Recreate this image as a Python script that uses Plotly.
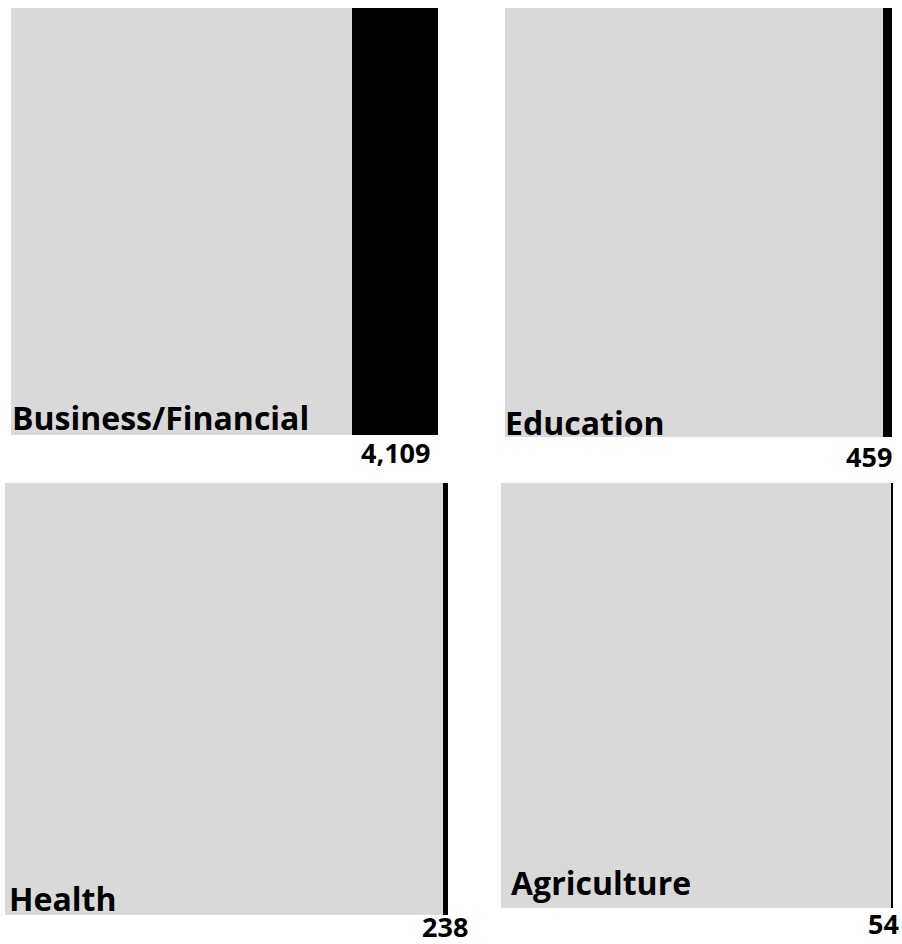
import plotly.graph_objects as go

# ---- data ----
categories = ["Business/Financial", "Education", "Health", "Agriculture"]
values = [4109, 459, 238, 54]
value_labels = ["4,109", "459", "238", "54"]
total = 20400  # value represented by a full grey square

# ---- layout (pixel boxes of each panel: left, top, right, bottom) ----
W, H = 902, 944
boxes = [(11, 8, 438, 435), (505, 8, 892, 437), (5, 483, 448, 915), (501, 483, 893, 908)]
label_offsets = [(1, 1), (0, -2), (4, 0), (10, 9)]  # (xshift, yshift) of category labels
value_yshift = [2, 0, 8, 4]          # vertical nudge of the value labels
value_right_limit = [None, 893, None, 900]  # right edge (px) for labels pushed in from the edge

GREY = "#d9d9d9"
FONT = "Open Sans"
LABEL_SIZE = 32
VALUE_SIZE = 27

fig = go.Figure()
annotations = []
for i, (cat, v, lab, box) in enumerate(zip(categories, values, value_labels, boxes)):
    l, t, r, b = box
    ax = "" if i == 0 else str(i + 1)
    xa, ya = "x" + ax, "y" + ax
    fig.add_trace(go.Bar(y=[0], x=[total - v], orientation="h", width=1,
                         marker=dict(color=GREY, line=dict(width=0)),
                         xaxis=xa, yaxis=ya, hoverinfo="skip", showlegend=False))
    fig.add_trace(go.Bar(y=[0], x=[v], orientation="h", width=1,
                         marker=dict(color="black", line=dict(width=0)),
                         xaxis=xa, yaxis=ya, name=cat, showlegend=False))
    fig.layout["xaxis" + ax] = dict(domain=[l / W, r / W], range=[0, total], visible=False,
                                    anchor=ya, fixedrange=True)
    fig.layout["yaxis" + ax] = dict(domain=[1 - b / H, 1 - t / H], range=[-0.5, 0.5], visible=False,
                                    anchor=xa, fixedrange=True)
    xs, ys = label_offsets[i]
    annotations.append(dict(text=cat, xref=xa + " domain", yref=ya + " domain", x=0, y=0,
                            xanchor="left", yanchor="bottom", showarrow=False,
                            xshift=xs - 2, yshift=ys - 7,
                            font=dict(family=FONT, size=LABEL_SIZE, color="black", weight=700)))
    # value label centred under the black bar, or pushed in from the figure edge
    font = dict(family=FONT, size=VALUE_SIZE, color="black", weight=700)
    if value_right_limit[i] is not None:
        annotations.append(dict(text=lab, xref="paper", yref=ya + " domain",
                                x=value_right_limit[i] / W, y=0, borderpad=0,
                                xanchor="right", yanchor="top", showarrow=False,
                                yshift=value_yshift[i], font=font))
    else:
        annotations.append(dict(text=lab, xref=xa, yref=ya + " domain", x=total - v / 2, y=0,
                                borderpad=0,
                                xanchor="center", yanchor="top", showarrow=False,
                                yshift=value_yshift[i], font=font))

fig.update_layout(width=W, height=H, margin=dict(l=0, r=0, t=0, b=0),
                  paper_bgcolor="white", plot_bgcolor="white", barmode="stack",
                  bargap=0, annotations=annotations)
fig.write_html("out.html", config={"displayModeBar": False},
               post_script="document.body.style.margin='0';document.body.style.overflow='hidden';")
